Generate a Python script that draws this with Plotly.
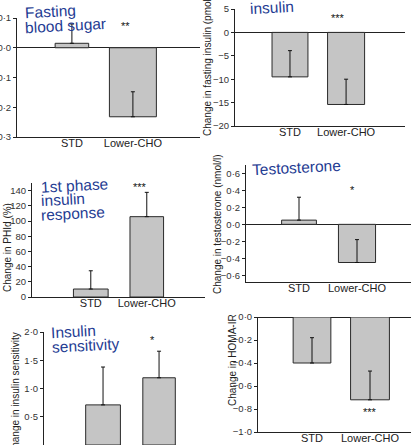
import plotly.graph_objects as go

W, H = 411, 445

categories = ["STD", "Lower-CHO"]
cat_pos = [0, 1]

# values (change from baseline, mean and one-sided error)
fbs_change = [0.015, -0.232]
fbs_err = [0.065, 0.084]
insulin_change = [-9.5, -15.4]
insulin_err = [5.6, 5.4]
phi_change = [10.5, 105.7]
phi_err = [24.0, 32.0]
testo_change = [0.05, -0.45]
testo_err = [0.27, 0.27]
sens_change = [0.71, 1.19]
sens_err = [0.67, 0.47]
homa_change = [-0.40, -0.72]
homa_err = [0.22, 0.25]

stars = ["**", "***", "***", "*", "*", "***"]

fbs_ticks = [0.1, 0.0, -0.1, -0.2, -0.3]
insulin_ticks = [5, 0, -5, -10, -15, -20]
phi_ticks = [0, 20, 40, 60, 80, 100, 120, 140]
testo_ticks = [0.6, 0.4, 0.2, 0.0, -0.2, -0.4, -0.6]
sens_ticks = [0.5, 1.0, 1.5, 2.0]
homa_ticks = [0.0, -0.2, -0.4, -0.6, -0.8, -1.0]


def fmt(v, dec):
    s = f"{abs(v):.{dec}f}".replace(".", "·")
    return ("−" + s) if v < 0 else s


def px_x(p):
    return p / W


def px_y(p):
    return 1 - p / H


BLUE = "#1f3c93"
DARK = "#222222"
FONT = "Liberation Sans, Arial, sans-serif"

panels = [
    dict(vals=fbs_change, err=fbs_err, ticks=fbs_ticks, dec=1, yr=[-0.3, 0.1],
         xd=[17, 200], yd=[137, 18], xr=[-0.90, 2.10], widths=[0.55, 0.77],
         zero=True, star_y=0.113, star_shift=-7),
    dict(vals=insulin_change, err=insulin_err, ticks=insulin_ticks, dec=0, yr=[-20, 5],
         xd=[235, 405], yd=[126, 9], xr=[-0.98, 2.05], widths=[0.64, 0.66],
         zero=True, star_y=5.6, star_shift=-8),
    dict(vals=phi_change, err=phi_err, ticks=phi_ticks, dec=0, yr=[0, 150],
         xd=[32, 205], yd=[297, 183], xr=[-1.05, 2.04], widths=[0.62, 0.60],
         zero=False, star_y=161, star_shift=-7),
    dict(vals=testo_change, err=testo_err, ticks=testo_ticks, dec=1, yr=[-0.68, 0.7],
         xd=[246, 411], yd=[282, 165], xr=[-0.914, 1.931], widths=[0.60, 0.64],
         zero=True, star_y=0.55, star_shift=-5),
    dict(vals=sens_change, err=sens_err, ticks=sens_ticks, dec=1, yr=[0, 2.0],
         xd=[44, 205], yd=[445, 332], xr=[-1.054, 1.82], widths=[0.62, 0.58],
         zero=False, star_y=2.07, star_shift=-7),
    dict(vals=homa_change, err=homa_err, ticks=homa_ticks, dec=1, yr=[-1.0, 0.0],
         xd=[258, 411], yd=[432, 317], xr=[-0.931, 1.707], widths=[0.65, 0.67],
         zero=True, star_y=-0.86, star_shift=0),
]

fig = go.Figure()
layout = dict(
    template="none",
    width=W, height=H, margin=dict(l=0, r=0, t=0, b=0, pad=0),
    paper_bgcolor="white", plot_bgcolor="white", showlegend=False,
    font=dict(family=FONT, color=DARK),
)
annotations = []

for i, p in enumerate(panels):
    k = "" if i == 0 else str(i + 1)
    fig.add_trace(go.Bar(
        x=cat_pos, y=p["vals"], width=p["widths"],
        xaxis="x" + k, yaxis="y" + k,
        marker=dict(color="#c5c5c5", line=dict(color="#2a2a2a", width=1)),
        error_y=dict(type="data", symmetric=False, array=p["err"],
                     arrayminus=[0, 0], color="#111111", thickness=1, width=2),
    ))
    layout["xaxis" + k] = dict(
        domain=[px_x(p["xd"][0]), px_x(p["xd"][1])], range=p["xr"],
        anchor="y" + k, showline=True, linecolor=DARK, linewidth=1,
        ticks="", tickvals=cat_pos, ticktext=categories, automargin=False,
        ticklabelstandoff=-4,
        tickfont=dict(size=11, color=DARK), showgrid=False, zeroline=False,
    )
    layout["yaxis" + k] = dict(
        domain=[px_y(p["yd"][0]), px_y(p["yd"][1])], range=p["yr"],
        anchor="x" + k, showline=True, linecolor=DARK, linewidth=1,
        ticks="outside", ticklen=3, tickcolor=DARK, automargin=False,
        tickvals=p["ticks"], ticktext=[fmt(v, p["dec"]) for v in p["ticks"]],
        tickfont=dict(size=9.5, color="#333333"), showgrid=False,
        zeroline=p["zero"], zerolinecolor=DARK, zerolinewidth=1,
    )
    r0, r1 = p["yr"]
    annotations.append(dict(
        x=cat_pos[1], y=(p["star_y"] - r0) / (r1 - r0),
        xref="x" + k, yref="y" + k + " domain",
        text=stars[i], showarrow=False, xshift=p["star_shift"], yshift=-4,
        font=dict(size=11, color="#111111"),
    ))

# panel titles (blue)
title_lines = [
    ("Fasting", 22, 11), ("blood sugar", 23, 25),
    ("Fasting", 247, -9), ("insulin", 247, 8),
    ("1st phase", 38, 185), ("insulin", 38, 199), ("response", 38, 213),
    ("Testosterone", 250, 167),
    ("Insulin", 48, 331), ("sensitivity", 49, 345),
]
for txt, xl, yc in title_lines:
    annotations.append(dict(
        x=px_x(xl), y=px_y(yc), xref="paper", yref="paper", text=txt,
        xanchor="left", yanchor="middle", showarrow=False, textangle=-3,
        font=dict(size=15.5, color=BLUE, family=FONT),
    ))

# y-axis titles (centre positions)
ytitles = [
    ("Change in fasting insulin (pmol/l)", 207, 64),
    ("Change in PHId (%)", 8, 248),
    ("Change in testosterone (nmol/l)", 217, 224),
    ("Change in insulin sensitivity", 15, 394),
    ("Change in HOMA-IR", 232, 360),
]
for txt, xc, yc in ytitles:
    annotations.append(dict(
        x=px_x(xc), y=px_y(yc), xref="paper", yref="paper", text=txt,
        xanchor="center", yanchor="middle", showarrow=False, textangle=-90,
        font=dict(size=10, color=DARK, family=FONT),
    ))

layout["annotations"] = annotations
fig.update_layout(**layout)
fig.write_html("out.html")
